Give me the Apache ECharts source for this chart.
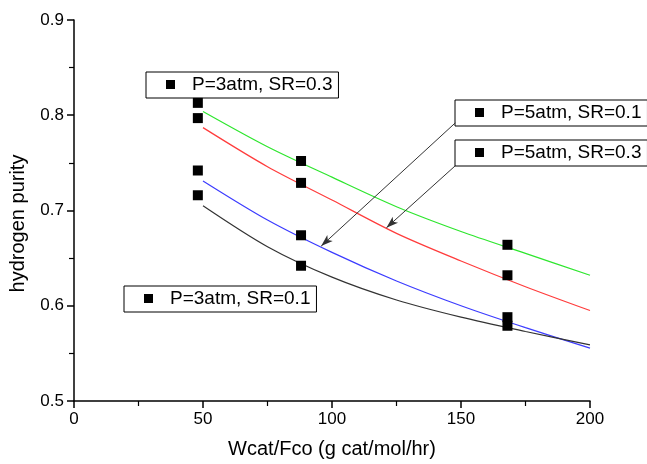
<!DOCTYPE html>
<html>
<head>
<meta charset="utf-8">
<script src="https://cdn.jsdelivr.net/npm/echarts@6/dist/echarts.min.js"></script>
<style>
html,body{margin:0;padding:0;background:#fff;}
#chart{width:647px;height:464px;}
</style>
</head>
<body>
<div id="chart"></div>
<script>
// Measured points
const pointX = [48, 88, 168];
const ptP3SR03 = [0.813, 0.752, 0.664];
const ptP5SR03 = [0.797, 0.729, 0.632];
const ptP5SR01 = [0.742, 0.674, 0.588];
const ptP3SR01 = [0.716, 0.642, 0.579];

// Fitted curves
const fitX = [50, 75, 100, 125, 150, 175, 200];
const fitGreen = [0.804, 0.767, 0.735, 0.704, 0.678, 0.655, 0.632];
const fitRed   = [0.787, 0.746, 0.711, 0.676, 0.647, 0.620, 0.595];
const fitBlue  = [0.731, 0.690, 0.656, 0.626, 0.600, 0.577, 0.5555];
const fitBlack = [0.705, 0.662, 0.630, 0.606, 0.588, 0.573, 0.559];

const names = ['P=3atm, SR=0.3', 'P=5atm, SR=0.1', 'P=5atm, SR=0.3', 'P=3atm, SR=0.1'];

// Arrow annotations [from, to] in data coordinates
const arrowBlue = [[147.8, 0.792], [95.8, 0.6626]];
const arrowRed  = [[147.8, 0.747], [121.1, 0.6819]];

const FONT = 'Liberation Sans, Arial, sans-serif';
const zip = (xs, ys) => xs.map((x, i) => [x, ys[i]]);

function scatter(name, ys) {
  return {
    name, type: 'scatter', data: zip(pointX, ys),
    symbol: 'rect', symbolSize: 10, itemStyle: {color: '#000', opacity: 1}, z: 5,
    emphasis: {disabled: true}
  };
}
function fit(name, ys, color) {
  return {
    name, type: 'line', data: zip(fitX, ys), smooth: 0.3, showSymbol: false, symbol: 'none',
    lineStyle: {color, width: 1.2}, z: 3, emphasis: {disabled: true}, silent: true
  };
}
function legendAt(name, left, top) {
  return {
    data: [name], left, top, orient: 'horizontal',
    backgroundColor: '#fff', borderColor: '#000', borderWidth: 1, borderRadius: 0,
    padding: [2, 6, 3, 20], itemWidth: 9, itemHeight: 9, icon: 'rect',
    selectedMode: false,
    itemStyle: {color: '#000', opacity: 1},
    textStyle: {fontFamily: FONT, fontSize: 19, color: '#000', padding: [0, 0, 0, 12], lineHeight: 21}
  };
}

const chart = echarts.init(document.getElementById('chart'));
chart.setOption({
  animation: false,
  backgroundColor: '#fff',
  grid: {left: 73, right: 57, top: 20, bottom: 62},
  legend: [
    legendAt(names[0], 146, 72),
    legendAt(names[1], 455, 100),
    legendAt(names[2], 455, 140),
    legendAt(names[3], 124, 286)
  ],
  xAxis: {
    type: 'value', min: 0, max: 200, interval: 50,
    name: 'Wcat/Fco (g cat/mol/hr)', nameLocation: 'middle', nameGap: 38,
    nameTextStyle: {fontFamily: FONT, fontSize: 20, color: '#000'},
    axisLine: {show: true, onZero: false, lineStyle: {color: '#000', width: 1.5}},
    axisTick: {show: true, inside: false, length: 7, lineStyle: {color: '#000', width: 1.5}},
    minorTick: {show: true, splitNumber: 2, length: 5, lineStyle: {color: '#000', width: 1.2}},
    axisLabel: {fontFamily: FONT, fontSize: 17, color: '#000', margin: 10},
    splitLine: {show: false}
  },
  yAxis: {
    type: 'value', min: 0.5, max: 0.9, interval: 0.1,
    name: 'hydrogen purity', nameLocation: 'middle', nameGap: 46,
    nameTextStyle: {fontFamily: FONT, fontSize: 20, color: '#000', padding: [0, 26, 0, 0]},
    axisLine: {show: true, onZero: false, lineStyle: {color: '#000', width: 1.5}},
    axisTick: {show: true, inside: false, length: 7, lineStyle: {color: '#000', width: 1.5}},
    minorTick: {show: true, splitNumber: 2, length: 5, lineStyle: {color: '#000', width: 1.2}},
    axisLabel: {fontFamily: FONT, fontSize: 17, color: '#000', margin: 10, formatter: v => v.toFixed(1)},
    splitLine: {show: false}
  },
  series: [
    fit('fit1', fitGreen, '#2ee62e'),
    fit('fit2', fitRed, '#ff3c3c'),
    fit('fit3', fitBlue, '#3c3cff'),
    fit('fit4', fitBlack, '#333333'),
    scatter(names[0], ptP3SR03),
    scatter(names[1], ptP5SR01),
    scatter(names[2], ptP5SR03),
    scatter(names[3], ptP3SR01),
    {
      type: 'line', data: [], silent: true,
      markLine: {
        silent: true, symbol: ['none', 'arrow'], symbolSize: [6, 12],
        label: {show: false},
        lineStyle: {color: '#333', width: 1, type: 'solid'},
        emphasis: {disabled: true},
        data: [
          [{coord: arrowBlue[0]}, {coord: arrowBlue[1]}],
          [{coord: arrowRed[0]}, {coord: arrowRed[1]}]
        ]
      }
    }
  ]
});
</script>
</body>
</html>
